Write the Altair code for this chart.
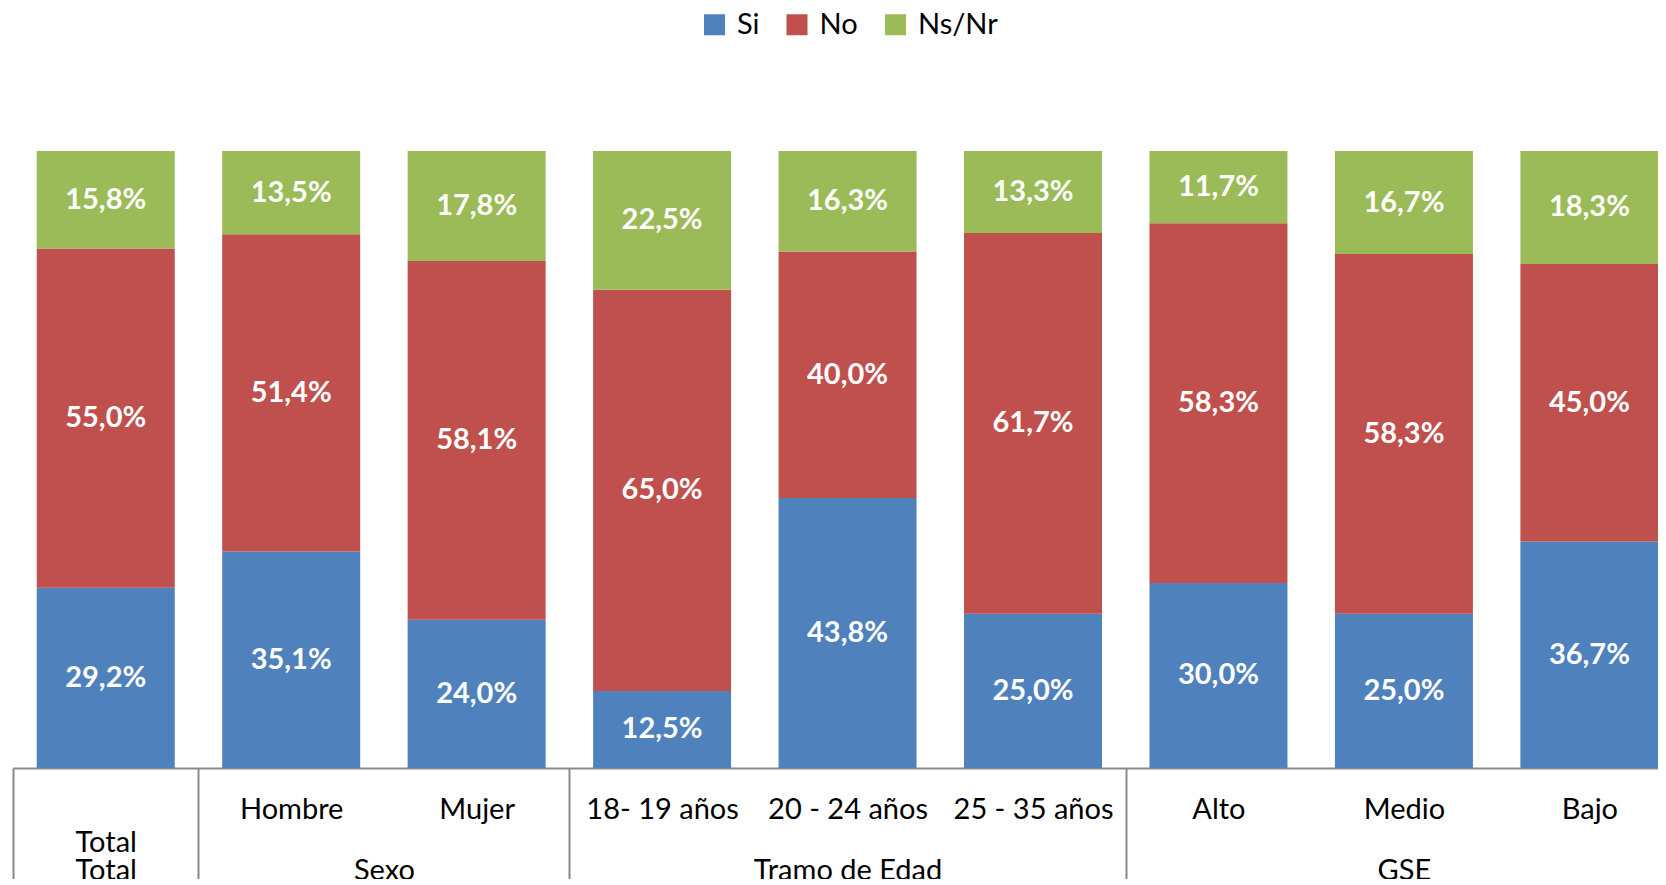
import json
import altair as alt
import pandas as pd

# ---- data ----
categories = ["Total", "Hombre", "Mujer", "18- 19 años", "20 - 24 años",
              "25  - 35 años", "Alto", "Medio", "Bajo"]
groups = ["Total", "Sexo", "Sexo", "Tramo de Edad", "Tramo de Edad",
          "Tramo de Edad", "GSE", "GSE", "GSE"]
series = ["Si", "No", "Ns/Nr"]
si = [29.2, 35.1, 24.0, 12.5, 43.8, 25.0, 30.0, 25.0, 36.7]
no = [55.0, 51.4, 58.1, 65.0, 40.0, 61.7, 58.3, 58.3, 45.0]
nsnr = [15.8, 13.5, 17.8, 22.5, 16.3, 13.3, 11.7, 16.7, 18.3]
colors = ["#4F81BD", "#C0504D", "#9BBB59"]

FONT = "Lato"
GRAY = "#898989"

# ---- tables ----
rows = []
for i, cat in enumerate(categories):
    for k, (s, vals) in enumerate(zip(series, [si, no, nsnr])):
        v = vals[i]
        rows.append({"idx": i, "cat": cat, "serie": s, "order": k, "value": v,
                     "label": f"{v:.1f}".replace(".", ",") + "%"})
df = pd.DataFrame(rows)

# group centers and boundaries derived from group membership
group_names, group_centers, boundaries = [], [], [-0.5]
start = 0
for i in range(1, len(groups) + 1):
    if i == len(groups) or groups[i] != groups[i - 1]:
        group_names.append(groups[start])
        group_centers.append((start + i - 1) / 2)
        if i < len(groups):
            boundaries.append(i - 0.5)
        start = i
gdf = pd.DataFrame({"center": group_centers, "name": group_names})
bdf = pd.DataFrame({"boundary": boundaries})

# category axis labels (category equal to its group name goes on a second line)
cat_labels = [["", c] if c == g else c for c, g in zip(categories, groups)]
cat_expr = json.dumps(cat_labels, ensure_ascii=False) + "[round(datum.value)]"
grp_expr = "''"
for c, n in zip(group_centers[::-1], group_names[::-1]):
    grp_expr = f"abs(datum.value - {c}) < 0.01 ? {json.dumps(n, ensure_ascii=False)} : ({grp_expr})"

xscale = alt.Scale(domain=[-0.5, 8.370], nice=False, zero=False, padding=0)
yscale = alt.Scale(domain=[0, 1], nice=False, zero=True, padding=0)

common_axis = dict(orient="bottom", grid=False, title=None, labelFlush=False,
                   labelOverlap=False, labelBound=False, labelFont=FONT,
                   labelFontSize=29, labelColor="black", labelBaseline="top",
                   labelAlign="center", labelLimit=0)

cat_axis = alt.Axis(values=list(range(len(categories))), labelExpr=cat_expr,
                    domain=True, domainColor=GRAY, domainWidth=2,
                    ticks=False, tickSize=0, labelPadding=27,
                    labelLineHeight=33, **common_axis)
grp_axis = alt.Axis(values=group_centers, labelExpr=grp_expr, domain=False,
                    ticks=False, tickSize=0, labelPadding=88, **common_axis)
sep_axis = alt.Axis(values=boundaries, labels=False, domain=False, ticks=True,
                    tickSize=118, tickWidth=2, tickColor=GRAY, orient="bottom",
                    grid=False, title=None)

base = alt.Chart(df).transform_stack(
    stack="value", groupby=["idx"], as_=["y0", "y1"], offset="normalize",
    sort=[alt.SortField("order", order="ascending")]
).transform_calculate(mid="(datum.y0 + datum.y1) / 2")

bars = base.mark_bar(size=138).encode(
    x=alt.X("idx:Q", scale=xscale, axis=cat_axis),
    y=alt.Y("y0:Q", scale=yscale, axis=None),
    y2="y1:Q",
    color=alt.Color("serie:N", sort=series,
                    scale=alt.Scale(domain=series, range=colors),
                    legend=alt.Legend(orient="none", legendX=687, legendY=-141,
                                      direction="horizontal", title=None,
                                      symbolType="square", symbolSize=441,
                                      symbolStrokeWidth=0, labelFont=FONT,
                                      labelFontSize=29, labelColor="black",
                                      labelOffset=8, columnPadding=22.5,
                                      padding=0, labelLimit=0)),
)

labels = base.mark_text(color="white", font=FONT, fontWeight="bold",
                        fontSize=29, baseline="middle", align="center").encode(
    x=alt.X("idx:Q", scale=xscale, axis=None),
    y=alt.Y("mid:Q", scale=yscale, axis=None),
    text="label:N",
)

grp = alt.Chart(gdf).mark_point(opacity=0).encode(
    x=alt.X("center:Q", scale=xscale, axis=grp_axis)
)
sep = alt.Chart(bdf).mark_point(opacity=0).encode(
    x=alt.X("boundary:Q", scale=xscale, axis=sep_axis)
)

chart = alt.layer(bars, labels, grp, sep).resolve_axis(x="independent").properties(
    width=1645, height=617,
    autosize=alt.AutoSizeParams(type="none"),
    padding={"left": 5, "top": 143, "right": 0, "bottom": 111},
).configure_view(stroke=None)

chart.save("out.html", embed_options={"renderer": "svg", "actions": False})
